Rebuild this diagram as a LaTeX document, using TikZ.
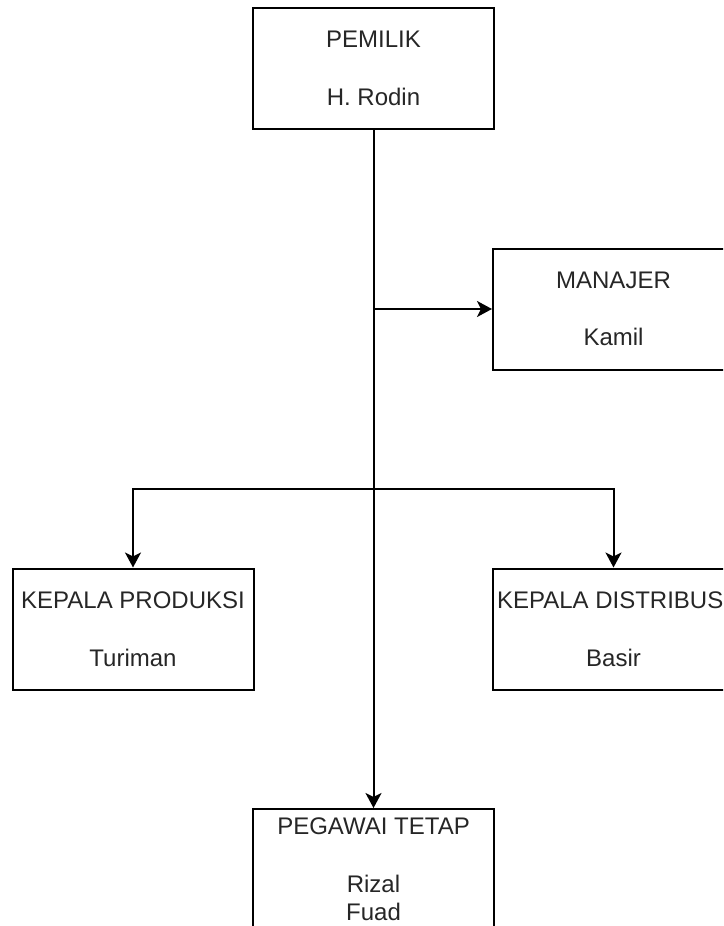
\documentclass[tikz,border=0pt]{standalone}
\usepackage{fontspec}
\setmainfont{Liberation Sans}
\usetikzlibrary{positioning,arrows.meta}

\begin{document}
\begin{tikzpicture}[x=1pt,y=1pt,line width=2pt,
		-{Stealth[length=15pt,width=16pt,inset=4pt]},
		on grid,node distance=240.5pt and 240pt,
		jabatan node/.style={rectangle,draw,-,minimum width=241pt,minimum height=121pt,
			align=center,text=black!85,font=\fontsize{24}{28.8}\selectfont}]
		
		\useasboundingbox (0,0) rectangle (723,-926);
		\clip (0,0) rectangle (723,-926);
		
		\node[jabatan node] (1) at (373.5,-68.5) {PEMILIK\\~\\H. Rodin};
		\node[jabatan node] (2) [below right=240.5pt and 240pt of 1] {MANAJER\\~\\Kamil};
		\node[jabatan node] (3) [below left=560.5pt and 240.5pt of 1] {KEPALA PRODUKSI\\~\\Turiman};
		\node[jabatan node] (4) [below right=560.5pt and 240pt of 1] {KEPALA DISTRIBUSI\\~\\Basir};
		\node[jabatan node] (5) [below=801pt of 1] {PEGAWAI TETAP\\~\\Rizal\\Fuad};
		
		\coordinate (m) at (1 |- 2);
		\coordinate (b) at (373.5,-489);
		
		\path (1) edge (5);
		\draw (m) -- (2);
		\draw (b) -| (3);
		\draw (b) -| (4);
		\end{tikzpicture}
\end{document}
